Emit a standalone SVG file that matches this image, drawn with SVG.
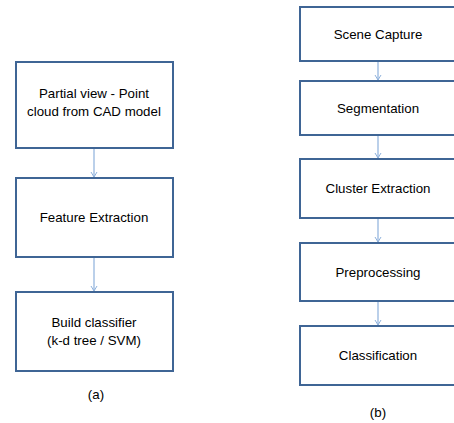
<svg xmlns="http://www.w3.org/2000/svg" width="454" height="423" viewBox="0 0 454 423">
<style>
.box{fill:#fff;stroke:#3f6595;stroke-width:2}
.t{font-family:"Liberation Sans",Arial,sans-serif;font-size:13.3px;fill:#000;text-anchor:middle}
.c{stroke:#8eb1dc;stroke-width:1.2;fill:none}
</style>
<defs>
<marker id="ah" markerWidth="8" markerHeight="8" refX="6" refY="4" orient="auto" markerUnits="userSpaceOnUse">
<polyline points="1,1 6,4 1,7" fill="none" stroke="#8eb1dc" stroke-width="1"/>
</marker>
</defs>
<rect width="454" height="423" fill="#fff"/>
<g id="connectors">
<line class="c" x1="94" y1="148" x2="94" y2="177" marker-end="url(#ah)"/>
<line class="c" x1="94" y1="257" x2="94" y2="291" marker-end="url(#ah)"/>
<line class="c" x1="378" y1="61" x2="378" y2="80" marker-end="url(#ah)"/>
<line class="c" x1="378" y1="135" x2="378" y2="158" marker-end="url(#ah)"/>
<line class="c" x1="378" y1="218" x2="378" y2="242" marker-end="url(#ah)"/>
<line class="c" x1="378" y1="301" x2="378" y2="325" marker-end="url(#ah)"/>
</g>
<g id="a1"><rect class="box" x="16" y="62" width="157" height="86"/>
<text class="t" x="94" y="97.5">Partial view - Point</text>
<text class="t" x="94" y="115.5">cloud from CAD model</text></g>
<g id="a2"><rect class="box" x="16" y="178" width="157" height="79"/>
<text class="t" x="94" y="222">Feature Extraction</text></g>
<g id="a3"><rect class="box" x="16" y="292" width="157" height="79"/>
<text class="t" x="94" y="327">Build classifier</text>
<text class="t" x="94" y="345">(k-d tree / SVM)</text></g>
<text class="t" x="96" y="399" id="la">(a)</text>
<g id="b1"><rect class="box" x="300" y="7" width="160" height="54"/>
<text class="t" x="378" y="38.5">Scene Capture</text></g>
<g id="b2"><rect class="box" x="300" y="81" width="160" height="54"/>
<text class="t" x="378" y="112.5">Segmentation</text></g>
<g id="b3"><rect class="box" x="300" y="159" width="160" height="59"/>
<text class="t" x="378" y="193">Cluster Extraction</text></g>
<g id="b4"><rect class="box" x="300" y="243" width="160" height="58"/>
<text class="t" x="378" y="276.5">Preprocessing</text></g>
<g id="b5"><rect class="box" x="300" y="326" width="160" height="59"/>
<text class="t" x="378" y="360">Classification</text></g>
<text class="t" x="378" y="417" id="lb">(b)</text>
</svg>
